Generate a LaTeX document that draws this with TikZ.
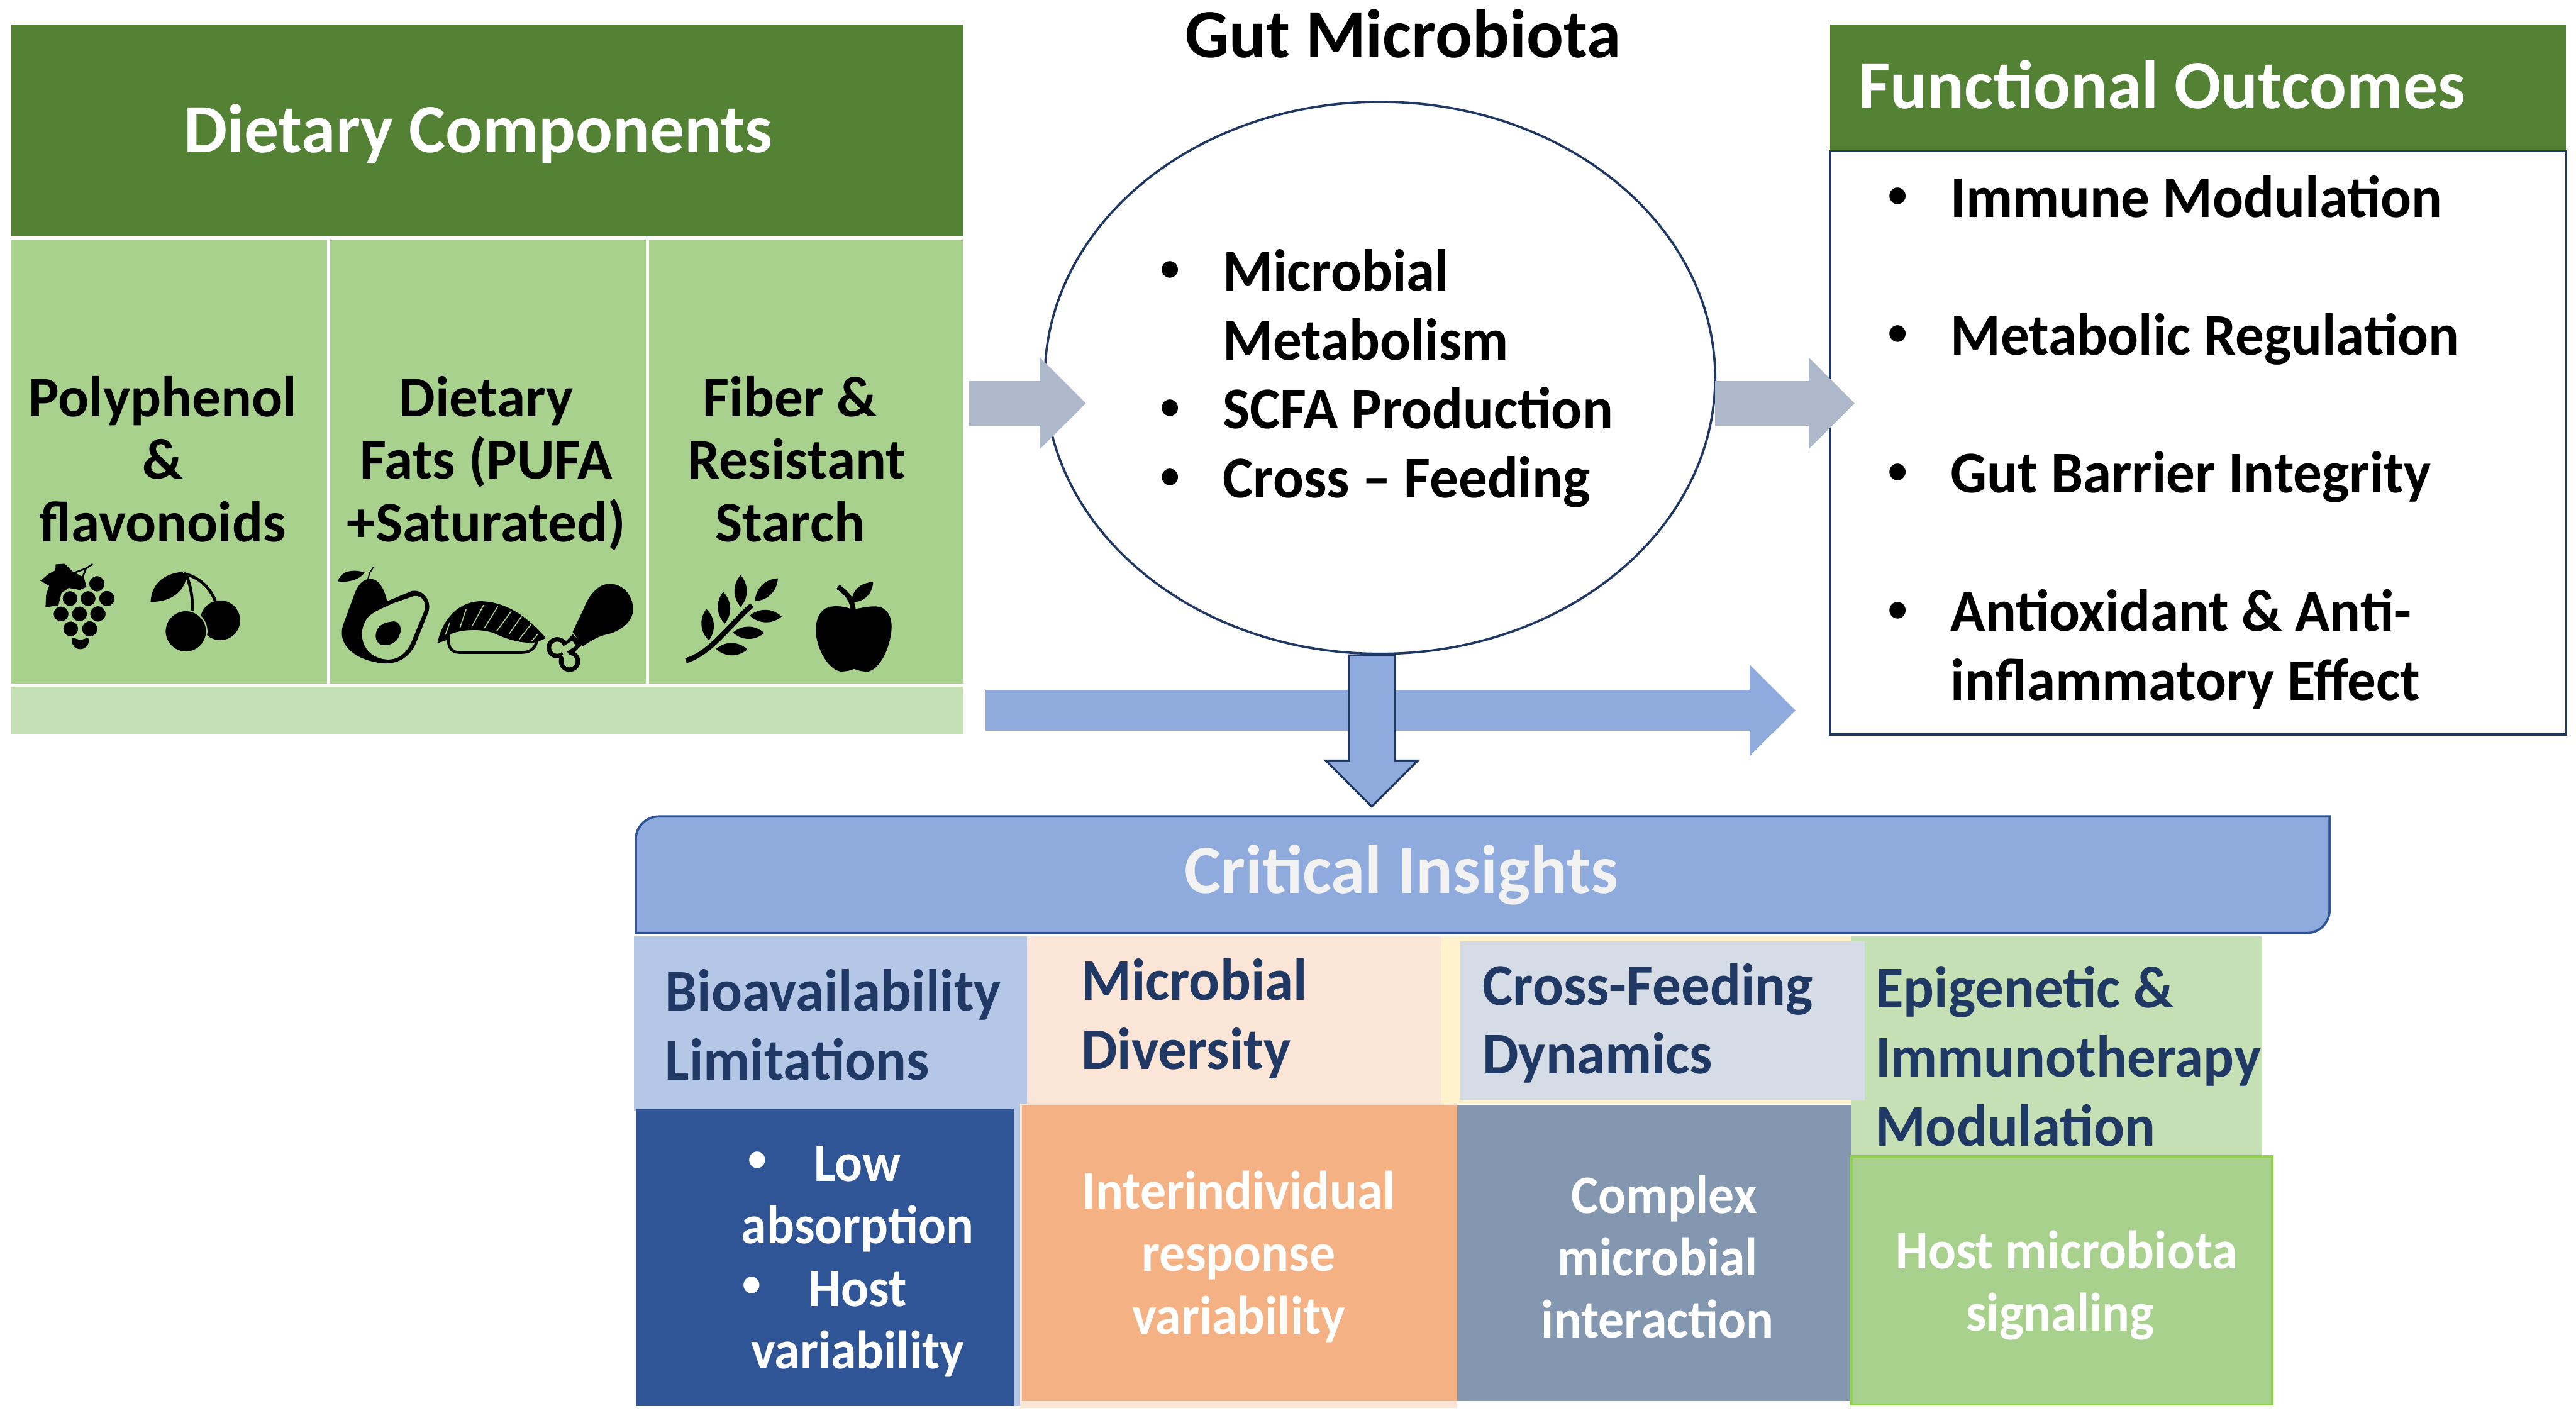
\documentclass[tikz,border=0pt]{standalone}
\usepackage{fontspec}
\setmainfont{Carlito}
\newfontfamily\condA[FakeStretch=0.97]{Carlito}
\newfontfamily\condB[FakeStretch=0.95]{Carlito}
\usetikzlibrary{arrows.meta,shapes.geometric}
\definecolor{hgreen}{HTML}{548235}
\definecolor{mgreen}{HTML}{A9D18E}
\definecolor{lgreen}{HTML}{C5E0B4}
\definecolor{navy}{HTML}{203864}
\definecolor{tnavy}{HTML}{1F3864}
\definecolor{barrow}{HTML}{8FAADC}
\definecolor{garrow}{HTML}{ADB9CA}
\definecolor{lblue}{HTML}{B4C7E7}
\definecolor{peach}{HTML}{FBE5D6}
\definecolor{lyellow}{HTML}{FFF2CC}
\definecolor{lslate}{HTML}{D6DCE5}
\definecolor{dblue}{HTML}{2F5597}
\definecolor{orange}{HTML}{F4B183}
\definecolor{slate}{HTML}{8497B0}
\definecolor{bordergreen}{HTML}{92D050}
\newcommand\fsz[2]{\fontsize{#1}{#2}\selectfont\bfseries}
\newcommand\fszA{\condA\fontsize{18}{21}\selectfont\bfseries}
\newcommand\fszB{\condB\fontsize{16.5}{19}\selectfont\bfseries}
\newcommand\smallbul{\raisebox{3pt}{\fontsize{12}{12}\selectfont •}}
\newcommand\blt{\leavevmode\vphantom{Ág}\makebox[19pt][l]{\smallbul}}
\newcommand\ind{\hspace*{19pt}}
\newcommand\boxnode[6]{\node[rectangle,inner sep=0pt,minimum width={(#4-#2)*0.5pt},minimum height={(#5-#3)*0.5pt},#6] (#1) at ({(#2+#4)/2},{(#3+#5)/2}) {};}
\tikzset{
  txt/.style={inner sep=0pt,align=center},
  txtl/.style={inner sep=0pt,align=left},
  titletxt/.style={txt,font=\fsz{21}{24}},
  cellhead/.style={txt,font=\fsz{17.5}{19}},
  lowertxt/.style={txt,white,font=\fszB},
  listtxt/.style={txtl,anchor=west,font=\fszA},
  headtxt/.style={txtl,color=tnavy,font=\fszA},
  blockgrey/.style={garrow,line width=13.5pt,-{Triangle[length=14pt,width=27pt]}},
  blockblue/.style={barrow,line width=12.5pt,-{Triangle[length=14pt,width=27pt]}},
  gap/.style={fill=black,draw=mgreen,line width=0.45pt},
  st/.style={draw=black,fill=none,line cap=round},
  stripe/.style={draw=mgreen,line width=0.3pt,line cap=round},
  icon/.style={x=0.06235pt,y=-0.06235pt},
}
\newcommand\lens[4]{\fill[black] (#1,#2) to[bend left=42] (#3,#4) to[bend left=42] (#1,#2);}
\begin{document}
\begin{tikzpicture}[x=0.5pt,y=-0.5pt]
\useasboundingbox (0,0) rectangle (1568,863);
\fill[white] (0,0) rectangle (1568,863);
% Dietary components
\boxnode{dchead}{7}{15}{586}{144}{fill=hgreen}
\node[titletxt,white] (dctitle) at (291,81.5) {Dietary Components};
\boxnode{cellA}{7}{146}{199}{416}{fill=mgreen}
\boxnode{cellB}{201}{146}{393}{416}{fill=mgreen}
\boxnode{cellC}{395}{146}{586}{416}{fill=mgreen}
\boxnode{strip}{7}{418}{586}{447}{fill=lgreen}
\node[cellhead] (tA) at (99,279.5) {Polyphenol\\\&\\flavonoids};
\node[cellhead] (tB) at (296,282) {Dietary\\Fats (PUFA\\+Saturated)};
\node[cellhead] (tC) at (485,279.5) {Fiber \&\hspace*{4pt}\\Resistant\\Starch\hspace*{4pt}};
% icons: grapes and cherries
\begin{scope}[shift={(18.706,336.7)},icon]
\fill[black] (47,135) -- (90,100) -- (120,85) -- (122,55) -- (165,52) -- (205,90) -- (260,120) -- (272,165) -- (240,180) -- (185,170) -- (150,195) -- (135,255) -- (72,265) -- (75,205) -- (90,160) -- cycle;
\draw[st,line width=0.5pt] (215,95) -- (270,75) -- (300,55) (270,75) -- (250,125);
\foreach \cx/\cy/\r in {323/150/41,192/222/40,280/222/40,372/222/41,148/297/40,238/297/40,328/297/41,195/370/40,288/370/41}
  \draw[gap] (\cx,\cy) circle[radius=\r];
\begin{scope}\clip (190,408) -- (242,425) -- (295,408) -- (295,480) -- (190,480) -- cycle;
\fill[black] (242,428) circle[radius=41];\end{scope}
\fill[black] (740,92) .. controls (650,100) and (590,150) .. (585,238) .. controls (680,240) and (750,190) .. (760,115) -- cycle;
\draw[st,line width=0.9pt,line cap=butt] (760,110) .. controls (785,170) and (795,240) .. (785,310);
\draw[st,line width=0.9pt,line cap=butt] (745,100) .. controls (820,115) and (880,170) .. (905,245);
\fill[black] (925,328) circle[radius=97];
\draw[gap] (757,382) circle[radius=102];
\end{scope}
% avocado, fish, chicken leg
\begin{scope}[shift={(198.28,336.7)},icon]
\fill[black] (215,125) .. controls (170,130) and (150,170) .. (135,215) -- (85,350) .. controls (55,440) and (130,510) .. (240,532) .. controls (320,552) and (400,530) .. (440,440) -- (500,290) .. controls (520,240) and (480,175) .. (420,185) -- (300,235) .. controls (285,175) and (260,125) .. (215,125) -- cycle;
\fill[mgreen] (430,210) .. controls (480,205) and (492,250) .. (480,285) -- (420,430) .. controls (385,510) and (330,530) .. (270,515) .. controls (180,490) and (160,400) .. (190,340) .. controls (205,300) and (250,280) .. (330,245) -- cycle;
\fill[black] (318,335) .. controls (355,325) and (375,360) .. (362,395) .. controls (350,440) and (300,460) .. (265,445) .. controls (235,425) and (240,385) .. (260,360) .. controls (275,345) and (295,338) .. (318,335) -- cycle;
\fill[black] (60,138) .. controls (70,90) and (130,75) .. (190,95) .. controls (165,130) and (110,145) .. (60,138) -- cycle;
\draw[st,line width=0.35pt] (205,130) -- (215,95) -- (232,70);
\fill[black] (545,440) .. controls (570,320) and (650,235) .. (760,235) .. controls (900,240) and (1000,330) .. (1075,415) -- (1030,435) .. controls (960,445) and (880,420) .. (820,390) .. controls (760,370) and (670,370) .. (610,395) -- (590,425) -- cycle;
\draw[st,line width=0.85pt] (600,395) -- (600,440) .. controls (605,475) and (630,485) .. (650,485) -- (960,485) .. controls (1005,485) and (1025,455) .. (1030,430);
\foreach \ax/\ay/\bx/\by in {655/365/685/275,715/355/770/255,775/365/840/260,835/380/905/285,895/395/955/310,945/420/1000/350,1005/430/1035/395,585/395/605/340}
  \draw[stripe] (\ax,\ay) -- (\bx,\by);
\fill[black] (1205,385) -- (1260,270) .. controls (1290,190) and (1340,150) .. (1385,150) .. controls (1460,150) and (1505,220) .. (1500,285) .. controls (1490,350) and (1420,385) .. (1380,395) .. controls (1330,405) and (1290,430) .. (1255,455) -- cycle;
\fill[black] (1130,462) circle[radius=52] (1190,528) circle[radius=52];
\draw[black,line width=4.2pt] (1160,490) -- (1230,420);
\fill[mgreen] (1130,462) circle[radius=30] (1190,528) circle[radius=30];
\draw[mgreen,line width=1.9pt] (1150,480) -- (1212,440) (1165,490) -- (1185,520);
\end{scope}
% wheat and apple
\begin{scope}[shift={(407.78,340.44)},icon]
\draw[st,line width=1.55pt,line cap=butt] (78,495) .. controls (200,460) and (300,310) .. (400,225);
\lens{345}{78}{345}{232}
\lens{260}{160}{268}{314}
\lens{178}{243}{190}{396}
\lens{527}{93}{415}{205}
\lens{545}{280}{390}{275}
\lens{460}{360}{308}{358}
\lens{378}{440}{225}{438}
\fill[black] (890,245) .. controls (840,225) and (790,225) .. (760,240) .. controls (715,265) and (710,330) .. (712,360) .. controls (725,470) and (790,545) .. (835,548) .. controls (870,548) and (885,540) .. (900,535) .. controls (920,545) and (950,550) .. (970,548) .. controls (1030,530) and (1075,430) .. (1082,340) .. controls (1085,280) and (1060,240) .. (1020,232) .. controls (980,225) and (930,240) .. (890,245) -- cycle;
\draw[st,line width=1.55pt,line cap=butt] (820,135) .. controls (870,170) and (890,200) .. (895,250);
\fill[black] (890,185) .. controls (905,130) and (950,115) .. (992,110) .. controls (990,165) and (950,210) .. (890,210) -- cycle;
\end{scope}
% Gut microbiota
\node[titletxt] (gmtitle) at (854,20.5) {Gut Microbiota};
\node[ellipse,draw=navy,line width=0.7pt,fill=white,minimum width=204pt,minimum height=168pt,inner sep=0pt] (gut) at (840,230) {};
\node[listtxt] (gmlist) at (706,228) {\blt Microbial\\\ind Metabolism\\\blt SCFA Production\\\blt Cross – Feeding};
% Functional outcomes
\boxnode{fohead}{1114}{15}{1562}{92}{fill=hgreen}
\boxnode{fobox}{1114}{92}{1562}{447}{draw=navy,line width=0.7pt,fill=white}
\node[titletxt,white] (fotitle) at (1316,51.5) {Functional Outcomes};
\node[listtxt] (foA) at (1149,120) {\blt Immune Modulation};
\node[listtxt] (foB) at (1149,204) {\blt Metabolic Regulation};
\node[listtxt] (foC) at (1149,288) {\blt Gut Barrier Integrity};
\node[listtxt] (foD) at (1149,393) {\blt Antioxidant \& Anti-\\\ind inflammatory Effect};
% arrows
\coordinate (aLs) at (590,245.5); \coordinate (aLe) at (661,245.5);
\coordinate (aRs) at (1044,245.5); \coordinate (aRe) at (1129,245.5);
\coordinate (aBs) at (600,432.5); \coordinate (aBe) at (1093,432.5);
\coordinate (aDs) at (835,399); \coordinate (aDe) at (835,491);
\draw[blockgrey] (aLs) -- (aLe);
\draw[blockgrey] (aRs) -- (aRe);
\draw[blockblue] (aBs) -- (aBe);
\draw[draw=navy,fill=barrow,line width=0.6pt,line join=miter] (aDs) ++(-14,0) -- ++(28,0) -- ++(0,64) -- ++(14,0) -- (aDe) -- ++(-28,-28) -- ++(14,0) -- cycle;
% Critical insights
\draw[draw=dblue,fill=barrow,line width=0.7pt] (387,568) -- (387,511) arc[start angle=180,end angle=90,x radius=14,y radius=-14] -- (1418,497) -- (1418,554) arc[start angle=0,end angle=-90,x radius=14,y radius=-14] -- cycle;
\node[titletxt,color=white!95!black] (cititle) at (853,532.5) {Critical Insights};
\boxnode{hA}{386}{570}{625}{676}{fill=lblue}
\boxnode{hB}{625}{570}{877}{672}{fill=peach}
\boxnode{hCb}{877}{570}{1127}{672}{fill=lyellow}
\boxnode{hD}{1127}{570}{1377}{705}{fill=lgreen}
\boxnode{hC}{889}{573}{1135}{670}{fill=lslate}
\boxnode{bAb}{387}{676}{624}{856}{fill=lblue}
\boxnode{bBb}{621}{672}{887}{857}{fill=peach}
\boxnode{bA}{387}{675}{617}{856}{fill=dblue}
\boxnode{bB}{622}{673}{887}{853}{fill=orange}
\boxnode{bC}{887}{673}{1127}{853}{fill=slate}
\boxnode{bD}{1127}{704}{1383}{855}{fill=mgreen,draw=bordergreen,line width=0.7pt}
\node[headtxt] (tHA) at (507,624) {Bioavailability\\Limitations};
\node[headtxt] (tHB) at (727,620) {Microbial\\Diversity};
\node[headtxt] (tHC) at (1003,623) {Cross-Feeding\\Dynamics};
\node[headtxt] (tHD) at (1259,643) {Epigenetic \&\\Immunotherapy\\Modulation};
\node[lowertxt] (tBA) at (522,768) {\leavevmode\llap{\smallbul\hspace*{14.5pt}}Low\\absorption\\\leavevmode\llap{\smallbul\hspace*{14.5pt}}Host\\variability};
\node[lowertxt] (tBB) at (754,765) {Interindividual\\response\\variability};
\node[lowertxt] (tBC) at (1009,765) {\hspace*{4pt}Complex\\microbial\\interaction};
\node[lowertxt] (tBD) at (1258,782.5) {Host microbiota\\signaling\hspace*{4pt}};
\end{tikzpicture}
\end{document}
